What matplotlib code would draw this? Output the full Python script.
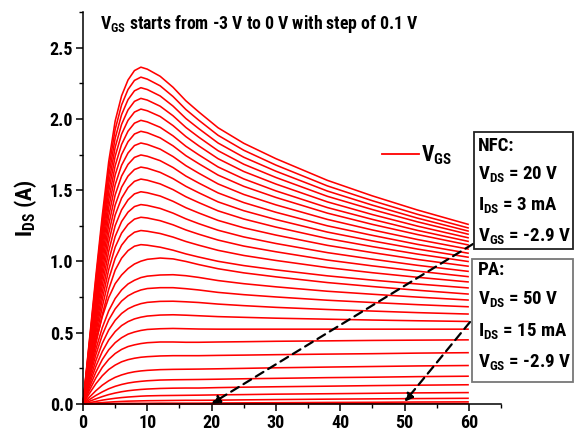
import matplotlib
matplotlib.use("Agg")
import matplotlib.pyplot as plt
from matplotlib import font_manager
from matplotlib.lines import Line2D
from matplotlib.patches import Rectangle
from matplotlib.ticker import MultipleLocator

# ---- data: output characteristics, I_DS (A) vs V_DS (V) for each V_GS ----
vds_points = [0, 1, 2, 3, 4, 5, 6, 7, 8, 9, 10, 12, 14, 16, 18, 21, 25, 30, 38, 45, 52, 60]

ids_m0p0 = [0, .449, .898, 1.323, 1.701, 1.985, 2.162, 2.273, 2.339, 2.363, 2.349, 2.299, 2.222, 2.127, 2.049, 1.938, 1.829, 1.721, 1.569, 1.460, 1.361, 1.259]
ids_m0p1 = [0, .436, .871, 1.284, 1.651, 1.926, 2.098, 2.206, 2.270, 2.293, 2.279, 2.232, 2.157, 2.066, 1.991, 1.885, 1.780, 1.676, 1.530, 1.426, 1.331, 1.234]
ids_m0p2 = [0, .422, .843, 1.243, 1.598, 1.864, 2.030, 2.135, 2.197, 2.219, 2.206, 2.161, 2.090, 2.003, 1.932, 1.831, 1.731, 1.633, 1.494, 1.395, 1.304, 1.212]
ids_m0p3 = [0, .407, .815, 1.201, 1.544, 1.801, 1.962, 2.063, 2.123, 2.144, 2.132, 2.089, 2.022, 1.940, 1.872, 1.777, 1.682, 1.589, 1.457, 1.364, 1.278, 1.190]
ids_m0p4 = [0, .393, .786, 1.159, 1.490, 1.738, 1.893, 1.990, 2.048, 2.069, 2.057, 2.017, 1.953, 1.876, 1.811, 1.721, 1.631, 1.543, 1.418, 1.329, 1.248, 1.165]
ids_m0p5 = [0, .378, .756, 1.114, 1.433, 1.672, 1.821, 1.914, 1.970, 1.990, 1.979, 1.941, 1.881, 1.808, 1.748, 1.663, 1.579, 1.495, 1.378, 1.295, 1.218, 1.140]
ids_m0p6 = [0, .363, .727, 1.071, 1.377, 1.607, 1.750, 1.840, 1.894, 1.913, 1.903, 1.867, 1.811, 1.742, 1.686, 1.606, 1.527, 1.449, 1.339, 1.260, 1.189, 1.115]
ids_m0p7 = [0, .348, .696, 1.025, 1.318, 1.538, 1.675, 1.761, 1.813, 1.831, 1.821, 1.788, 1.736, 1.672, 1.619, 1.544, 1.470, 1.397, 1.295, 1.221, 1.154, 1.086]
ids_m0p8 = [0, .332, .664, .978, 1.258, 1.467, 1.599, 1.681, 1.730, 1.747, 1.738, 1.707, 1.659, 1.599, 1.550, 1.481, 1.413, 1.345, 1.250, 1.183, 1.120, 1.057]
ids_m0p9 = [0, .316, .632, .931, 1.197, 1.396, 1.521, 1.599, 1.645, 1.662, 1.654, 1.625, 1.581, 1.527, 1.482, 1.418, 1.356, 1.294, 1.206, 1.144, 1.087, 1.029]
ids_m1p0 = [0, .300, .600, .884, 1.136, 1.326, 1.444, 1.518, 1.562, 1.578, 1.570, 1.544, 1.504, 1.454, 1.413, 1.355, 1.298, 1.241, 1.161, 1.104, 1.052, .999]
ids_m1p1 = [0, .283, .566, .834, 1.072, 1.251, 1.362, 1.432, 1.474, 1.489, 1.482, 1.459, 1.422, 1.377, 1.340, 1.288, 1.236, 1.185, 1.113, 1.062, 1.014, .966]
ids_m1p2 = [0, .266, .532, .783, 1.007, 1.175, 1.280, 1.346, 1.385, 1.399, 1.393, 1.372, 1.339, 1.299, 1.265, 1.219, 1.172, 1.126, 1.062, 1.016, .973, .930]
ids_m1p3 = [0, .249, .498, .734, .943, 1.100, 1.199, 1.260, 1.297, 1.310, 1.305, 1.286, 1.257, 1.221, 1.191, 1.150, 1.108, 1.068, 1.010, .969, .932, .893]
ids_m1p4 = [0, .231, .462, .682, .876, 1.022, 1.114, 1.171, 1.205, 1.217, 1.212, 1.196, 1.171, 1.140, 1.114, 1.078, 1.042, 1.007, .957, .921, .889, .856]
ids_m1p5 = [0, .212, .425, .626, .805, .939, 1.023, 1.076, 1.107, 1.118, 1.114, 1.100, 1.079, 1.053, 1.031, 1.001, .971, .941, .899, .869, .842, .814]
ids_m1p6 = [0, .230, .438, .612, .747, .844, .905, .950, .982, 1.002, 1.015, 1.024, 1.018, 1.000, .978, .949, .920, .892, .852, .824, .798, .771]
ids_m1p7 = [0, .201, .384, .536, .654, .740, .800, .842, .868, .887, .897, .905, .907, .900, .888, .866, .844, .822, .791, .770, .750, .729]
ids_m1p8 = [0, .182, .346, .484, .590, .667, .722, .759, .783, .800, .810, .816, .816, .809, .800, .783, .767, .751, .728, .712, .697, .682]
ids_m1p9 = [0, .160, .304, .426, .519, .587, .635, .668, .689, .704, .713, .720, .721, .717, .712, .701, .690, .678, .663, .652, .641, .631]
ids_m2p0 = [0, .138, .264, .368, .449, .508, .550, .578, .597, .609, .617, .624, .626, .623, .619, .613, .608, .602, .595, .589, .584, .579]
ids_m2p1 = [0, .117, .223, .312, .380, .430, .465, .490, .505, .516, .523, .528, .530, .528, .526, .525, .525, .525, .525, .525, .525, .525]
ids_m2p2 = [0, .096, .183, .257, .313, .354, .383, .403, .415, .424, .430, .435, .435, .433, .433, .435, .437, .440, .443, .446, .448, .450]
ids_m2p3 = [0, .074, .142, .198, .242, .273, .296, .311, .321, .328, .332, .337, .339, .339, .339, .341, .343, .346, .350, .353, .357, .360]
ids_m2p4 = [0, .048, .093, .132, .163, .187, .204, .217, .226, .232, .236, .241, .243, .244, .245, .247, .250, .254, .259, .263, .267, .270]
ids_m2p5 = [0, .031, .060, .085, .107, .124, .137, .147, .154, .159, .163, .168, .170, .171, .172, .174, .177, .180, .185, .188, .192, .195]
ids_m2p6 = [0, .019, .036, .052, .066, .077, .086, .093, .098, .102, .105, .109, .111, .112, .112, .115, .118, .121, .125, .129, .132, .135]
ids_m2p7 = [0, .009, .018, .027, .034, .040, .045, .049, .052, .055, .057, .059, .060, .061, .062, .064, .066, .069, .072, .075, .078, .080]
ids_m2p8 = [0, .004, .007, .010, .013, .016, .018, .020, .021, .022, .023, .024, .025, .026, .026, .027, .029, .031, .034, .036, .038, .040]
ids_m2p9 = [0, .001, .002, .003, .003, .004, .004, .005, .005, .005, .005, .006, .006, .006, .006, .007, .008, .009, .011, .012, .014, .015]
ids_m3p0 = [0, 0, 0, 0, 0, 0, 0, 0, 0, 0, 0, 0, 0, 0, 0, 0, 0, .001, .002, .002, .003, .003]

ids_curves = [ids_m0p0, ids_m0p1, ids_m0p2, ids_m0p3, ids_m0p4, ids_m0p5, ids_m0p6,
              ids_m0p7, ids_m0p8, ids_m0p9, ids_m1p0, ids_m1p1, ids_m1p2, ids_m1p3,
              ids_m1p4, ids_m1p5, ids_m1p6, ids_m1p7, ids_m1p8, ids_m1p9, ids_m2p0,
              ids_m2p1, ids_m2p2, ids_m2p3, ids_m2p4, ids_m2p5, ids_m2p6, ids_m2p7,
              ids_m2p8, ids_m2p9, ids_m3p0]

# bias points marked on the chart
nfc_vds, nfc_ids, nfc_vgs = 20, 0.003, -2.9
pa_vds, pa_ids, pa_vgs = 50, 0.015, -2.9

xticks = [0, 10, 20, 30, 40, 50, 60]
yticks = [0.0, 0.5, 1.0, 1.5, 2.0, 2.5]

# ---- fonts: prefer a narrow sans, otherwise shrink Liberation Sans ----
entries = font_manager.fontManager.ttflist
narrow_family, narrow_stretch = None, "normal"
for wanted in ("Liberation Sans Narrow", "Arial Narrow", "Roboto Condensed",
               "Open Sans Condensed", "Noto Sans Condensed"):
    if any(e.name == wanted for e in entries):
        narrow_family = wanted
        break
if narrow_family is None:
    for e in entries:
        if e.name == "DejaVu Sans" and str(e.stretch) in ("condensed", "semi-condensed") \
                and str(e.weight) in ("bold", "700"):
            narrow_family, narrow_stretch = "DejaVu Sans", "condensed"
            break

if narrow_family:
    FONT, k = narrow_family, 1.0
    plt.rcParams["font.stretch"] = narrow_stretch
else:
    FONT, k = "Liberation Sans", 0.8

plt.rcParams["font.family"] = [FONT, "DejaVu Sans"]
plt.rcParams["font.weight"] = "bold"
plt.rcParams["mathtext.fontset"] = "custom"
plt.rcParams["mathtext.rm"] = FONT + ":bold"
plt.rcParams["mathtext.it"] = FONT + ":bold"
plt.rcParams["mathtext.bf"] = FONT + ":bold"
plt.rcParams["mathtext.default"] = "rm"

W, H = 574, 432
fig = plt.figure(figsize=(W / 100, H / 100), dpi=100)
ax = fig.add_axes([83 / W, 1 - 404 / H, (501 - 83) / W, (404 - 12) / H])


def fxy(px, py):
    """pixel position (from top-left) to figure fraction"""
    return px / W, 1 - py / H


for ids in ids_curves:
    ax.plot(vds_points, ids, color="#ff0000", lw=1.15, solid_capstyle="butt", clip_on=False)

ax.set_xlim(0, 65)
ax.set_ylim(0, 2.75)
ax.spines["top"].set_visible(False)
ax.spines["right"].set_visible(False)
for s in ("left", "bottom"):
    ax.spines[s].set_linewidth(1.1)
ax.set_xticks(xticks)
ax.set_yticks(yticks)
ax.set_yticklabels([f"{v:.1f}" for v in yticks])
ax.xaxis.set_minor_locator(MultipleLocator(5))
ax.yaxis.set_minor_locator(MultipleLocator(0.25))
ax.tick_params(which="major", direction="out", length=5, width=1.1, labelsize=12.5 * k + 0.5, pad=2)
ax.tick_params(which="minor", direction="out", length=3, width=1.0)
for lab in ax.get_xticklabels() + ax.get_yticklabels():
    lab.set_fontweight("bold")

ax.set_ylabel(r"I$_{DS}$ (A)", fontsize=16 * k, fontweight="bold", labelpad=8)

fig.text(*fxy(259, 24), r"V$_{GS}$ starts from -3 V to 0 V with step of 0.1 V",
         ha="center", va="center", fontsize=12.8 * k, fontweight="bold")

# legend
leg = ax.legend([Line2D([0], [0], color="#ff0000", lw=1.3)], [r"V$_{GS}$"],
                loc="center left", bbox_to_anchor=((382 - 83) / 418, (404 - 155) / 392),
                frameon=False, fontsize=15.5 * k, handlelength=1.7, handletextpad=0.1,
                borderpad=0, borderaxespad=0)

# bias-point boxes
box_nfc = Rectangle(fxy(474, 249), (573 - 474) / W, (249 - 132) / H, transform=fig.transFigure,
                    fill=False, edgecolor="#222222", lw=1.3)
box_pa = Rectangle(fxy(472, 382), (573 - 472) / W, (382 - 259) / H, transform=fig.transFigure,
                   fill=False, edgecolor="#777777", lw=1.3)
fig.add_artist(box_nfc)
fig.add_artist(box_pa)

nfc_lines = ["NFC:", rf"V$_{{DS}}$ = {nfc_vds} V", rf"I$_{{DS}}$ = {nfc_ids * 1000:g} mA",
             rf"V$_{{GS}}$ = {nfc_vgs} V"]
pa_lines = ["PA:", rf"V$_{{DS}}$ = {pa_vds} V", rf"I$_{{DS}}$ = {pa_ids * 1000:g} mA",
            rf"V$_{{GS}}$ = {pa_vgs} V"]
box_fs = 13.6 if narrow_family else 11.5
for txt, py in zip(nfc_lines, [146, 174, 205, 236]):
    fig.text(*fxy(478, py), txt, ha="left", va="center", fontsize=box_fs, fontweight="bold")
for txt, py in zip(pa_lines, [270, 299, 331, 362]):
    fig.text(*fxy(478, py), txt, ha="left", va="center", fontsize=box_fs, fontweight="bold")

# dashed arrows to the bias points
arrow_kw = dict(arrowstyle="-|>", color="black", lw=1.6, linestyle=(0, (4, 2.5)),
                mutation_scale=12, shrinkA=0, shrinkB=0)
ax.annotate("", xy=(nfc_vds, nfc_ids), xycoords="data",
            xytext=fxy(473, 244), textcoords="figure fraction",
            arrowprops=arrow_kw, annotation_clip=False)
ax.annotate("", xy=(pa_vds, pa_ids), xycoords="data",
            xytext=fxy(470, 322), textcoords="figure fraction",
            arrowprops=arrow_kw, annotation_clip=False)

fig.savefig("out.png", dpi=100)
